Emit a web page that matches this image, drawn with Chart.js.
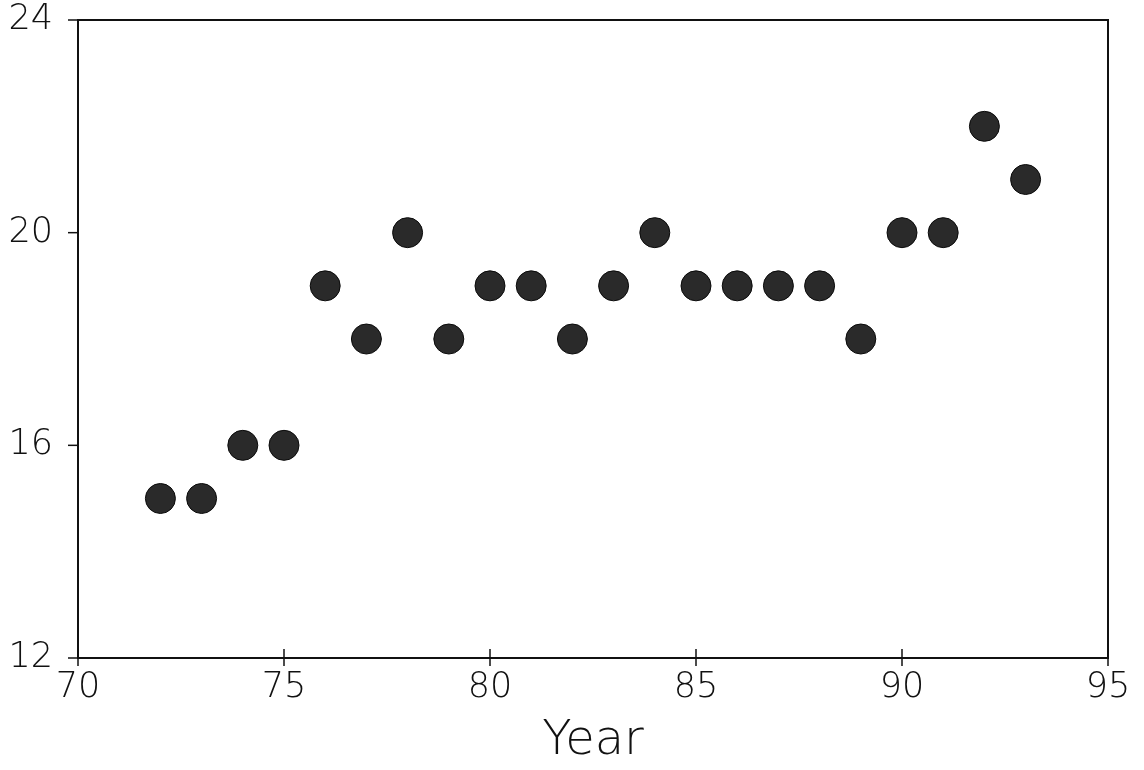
<!DOCTYPE html>
<html>
<head>
<meta charset="utf-8">
<script src="https://cdn.jsdelivr.net/npm/chart.js@4.4.1/dist/chart.umd.min.js"></script>
<style>
  html, body { margin: 0; padding: 0; background: #fff; }
  #wrap { width: 1144px; height: 770px; }
</style>
</head>
<body>
<div id="wrap"><canvas id="yearChart" width="1144" height="770"></canvas></div>
<script>
// values
const years = [72, 73, 74, 75, 76, 77, 78, 79, 80, 81, 82, 83, 84, 85, 86, 87, 88, 89, 90, 91, 92, 93];
const values = [15, 15, 16, 16, 19, 18, 20, 18, 19, 19, 18, 19, 20, 19, 19, 19, 19, 18, 20, 20, 22, 21];
const xTicks = [70, 75, 80, 85, 90, 95];
const yTicks = [12, 16, 20, 24];

const points = years.map((y, i) => ({ x: y, y: values[i] }));
const thinFont = "'DejaVu Sans', 'Liberation Sans', sans-serif";

// box around the plot + x ticks that cross the axis line
const frame = {
    id: 'frame',
    afterDraw(chart) {
        const { ctx, chartArea: a, scales } = chart;
        ctx.save();
        ctx.strokeStyle = '#111';
        ctx.lineWidth = 2;
        ctx.strokeRect(a.left, a.top, a.right - a.left, a.bottom - a.top);
        ctx.lineWidth = 1.5;
        xTicks.forEach(t => {
            const px = scales.x.getPixelForValue(t);
            ctx.beginPath();
            ctx.moveTo(px, a.bottom - 9);
            ctx.lineTo(px, a.bottom + 8);
            ctx.stroke();
        });
        yTicks.forEach(t => {
            const py = scales.y.getPixelForValue(t);
            ctx.beginPath();
            ctx.moveTo(a.left - 10, py);
            ctx.lineTo(a.left, py);
            ctx.stroke();
        });
        ctx.restore();
    }
};

new Chart(document.getElementById('yearChart').getContext('2d'), {
    type: 'scatter',
    data: {
        datasets: [{
            data: points,
            pointRadius: 15,
            pointHoverRadius: 15,
            backgroundColor: '#2a2a2a',
            borderColor: '#0a0a0a',
            borderWidth: 1
        }]
    },
    options: {
        responsive: false,
        animation: false,
        layout: { autoPadding: false, padding: { top: 20, right: 36, left: 0, bottom: 0 } },
        plugins: { legend: { display: false }, tooltip: { enabled: false } },
        scales: {
            x: {
                type: 'linear',
                min: 70,
                max: 95,
                afterBuildTicks: s => { s.ticks = xTicks.map(v => ({ value: v })); },
                afterFit: s => { s.height = 112; s.paddingLeft = 0; s.paddingRight = 0; },
                grid: { display: false },
                border: { display: false },
                ticks: {
                    color: '#111',
                    padding: 4,
                    font: { family: thinFont, size: 35, weight: 200, lineHeight: 1 }
                },
                title: {
                    display: true,
                    text: 'Year',
                    color: '#111',
                    padding: { top: 0, bottom: 4 },
                    font: { family: thinFont, size: 48, weight: 200, lineHeight: 1 }
                }
            },
            y: {
                min: 12,
                max: 24,
                afterBuildTicks: s => { s.ticks = yTicks.map(v => ({ value: v })); },
                afterFit: s => { s.width = 78; s.paddingTop = 0; s.paddingBottom = 0; },
                grid: { display: false },
                border: { display: false },
                ticks: {
                    color: '#111',
                    padding: 17,
                    font: { family: thinFont, size: 35, weight: 200, lineHeight: 1 }
                }
            }
        }
    },
    plugins: [frame]
});
</script>
</body>
</html>
